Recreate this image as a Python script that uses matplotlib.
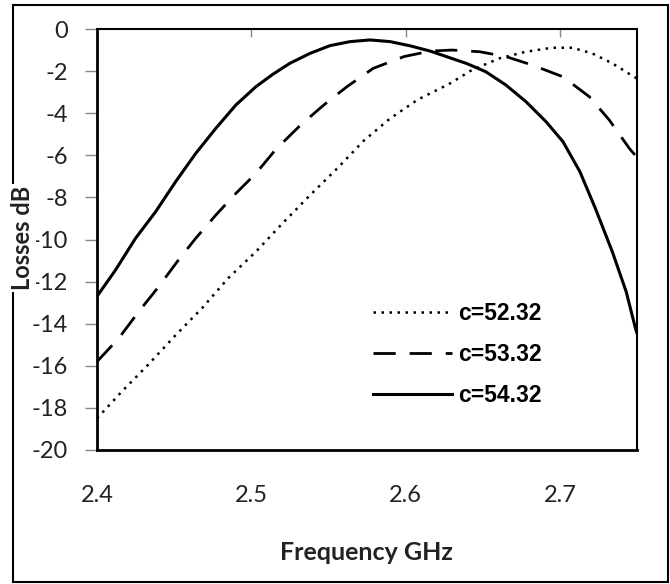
import matplotlib
matplotlib.use('Agg')
import matplotlib.pyplot as plt
from matplotlib.patches import Rectangle

# Data
freq_52 = [2.400, 2.416, 2.433, 2.451, 2.468, 2.485, 2.503, 2.520, 2.538, 2.556, 2.573, 2.590,
           2.608, 2.628, 2.643, 2.661, 2.678, 2.695, 2.708, 2.721, 2.734, 2.748, 2.750]
loss_52 = [-18.5, -17.23, -15.96, -14.54, -13.27, -11.84, -10.58, -9.25, -7.9, -6.6, -5.3, -4.25,
           -3.35, -2.62, -1.95, -1.39, -1.08, -0.89, -0.89, -1.16, -1.63, -2.27, -2.35]

freq_53 = [2.400, 2.414, 2.427, 2.440, 2.452, 2.464, 2.477, 2.490, 2.503, 2.516, 2.532, 2.547, 2.562,
           2.579, 2.599, 2.616, 2.630, 2.648, 2.665, 2.682, 2.702, 2.719, 2.732, 2.745, 2.750]
loss_53 = [-15.8, -14.7, -13.43, -12.24, -11.05, -9.94, -8.84, -7.81, -6.86, -5.71, -4.56, -3.61, -2.74,
           -1.87, -1.31, -1.05, -1.0, -1.08, -1.31, -1.71, -2.27, -3.21, -4.32, -5.67, -6.1]

freq_54 = [2.400, 2.412, 2.425, 2.438, 2.451, 2.464, 2.477, 2.490, 2.503, 2.514, 2.525, 2.538, 2.551,
           2.564, 2.577, 2.590, 2.603, 2.616, 2.628, 2.640, 2.652, 2.665, 2.678, 2.691, 2.702, 2.713,
           2.723, 2.734, 2.743, 2.749, 2.750]
loss_54 = [-12.7, -11.45, -9.94, -8.68, -7.25, -5.91, -4.72, -3.61, -2.74, -2.15, -1.63, -1.16, -0.79,
           -0.60, -0.52, -0.60, -0.80, -1.05, -1.35, -1.65, -2.03, -2.66, -3.45, -4.40, -5.35, -6.78,
           -8.52, -10.58, -12.48, -14.22, -14.45]

labels = ['c=52.32', 'c=53.32', 'c=54.32']
x_ticks = [2.4, 2.5, 2.6, 2.7]
y_ticks = list(range(-20, 1, 2))

fig = plt.figure(figsize=(6.7, 5.84), dpi=100)
ax = fig.add_axes([97 / 670, 1 - 450 / 584, 540 / 670, 421 / 584])

ax.plot(freq_52, loss_52, color='black', lw=1.8, linestyle=(0, (1, 2.2)), label=labels[0])
ax.plot(freq_53, loss_53, color='black', lw=2.0, linestyle=(0, (8, 5)), label=labels[1])
ax.plot(freq_54, loss_54, color='black', lw=2.2, label=labels[2])

ax.set_xlim(2.4, 2.75)
ax.set_ylim(-20, 0)
ax.set_xticks(x_ticks)
ax.set_xticklabels([f'{v:.1f}' for v in x_ticks])
ax.set_yticks(y_ticks)
ax.set_yticklabels([str(v) for v in y_ticks])

for side in ['left', 'bottom']:
    ax.spines[side].set_linewidth(2.0)
for side in ['top', 'right']:
    ax.spines[side].set_linewidth(1.5)

ax.tick_params(axis='x', top=True, bottom=False, direction='in', length=6,
               color='#888888', width=1, pad=25, labelsize=17, labelcolor='#222222')
ax.tick_params(axis='y', direction='out', length=9, color='#888888', width=1,
               pad=12, labelsize=17, labelcolor='#222222')
for lab in ax.get_xticklabels() + ax.get_yticklabels():
    lab.set_fontfamily('Lato')

leg = ax.legend(loc='upper left', bbox_to_anchor=(0.511, 0.352), frameon=False,
                handlelength=3.45, handletextpad=0.26, labelspacing=0.79, borderpad=0,
                borderaxespad=0,
                prop={'family': 'Liberation Sans', 'weight': 'bold', 'size': 16.5})

# y label sits over the tick labels with a white box, like the original
fig.text(23 / 670, 1 - 238 / 584, 'Losses dB', rotation=90, ha='center', va='center',
         fontsize=17, fontfamily='Lato', fontweight='bold', color='#222222',
         bbox=dict(facecolor='white', edgecolor='none', pad=1))
fig.text(366 / 670, 1 - 553 / 584, 'Frequency GHz', ha='center', va='center',
         fontsize=18, fontfamily='Lato', fontweight='bold', color='#222222')

fig.patches.append(Rectangle((13 / 670, 2 / 584), 655 / 670, 577 / 584, transform=fig.transFigure,
                             fill=False, edgecolor='black', lw=1.5))

fig.savefig('out.png', dpi=100)
